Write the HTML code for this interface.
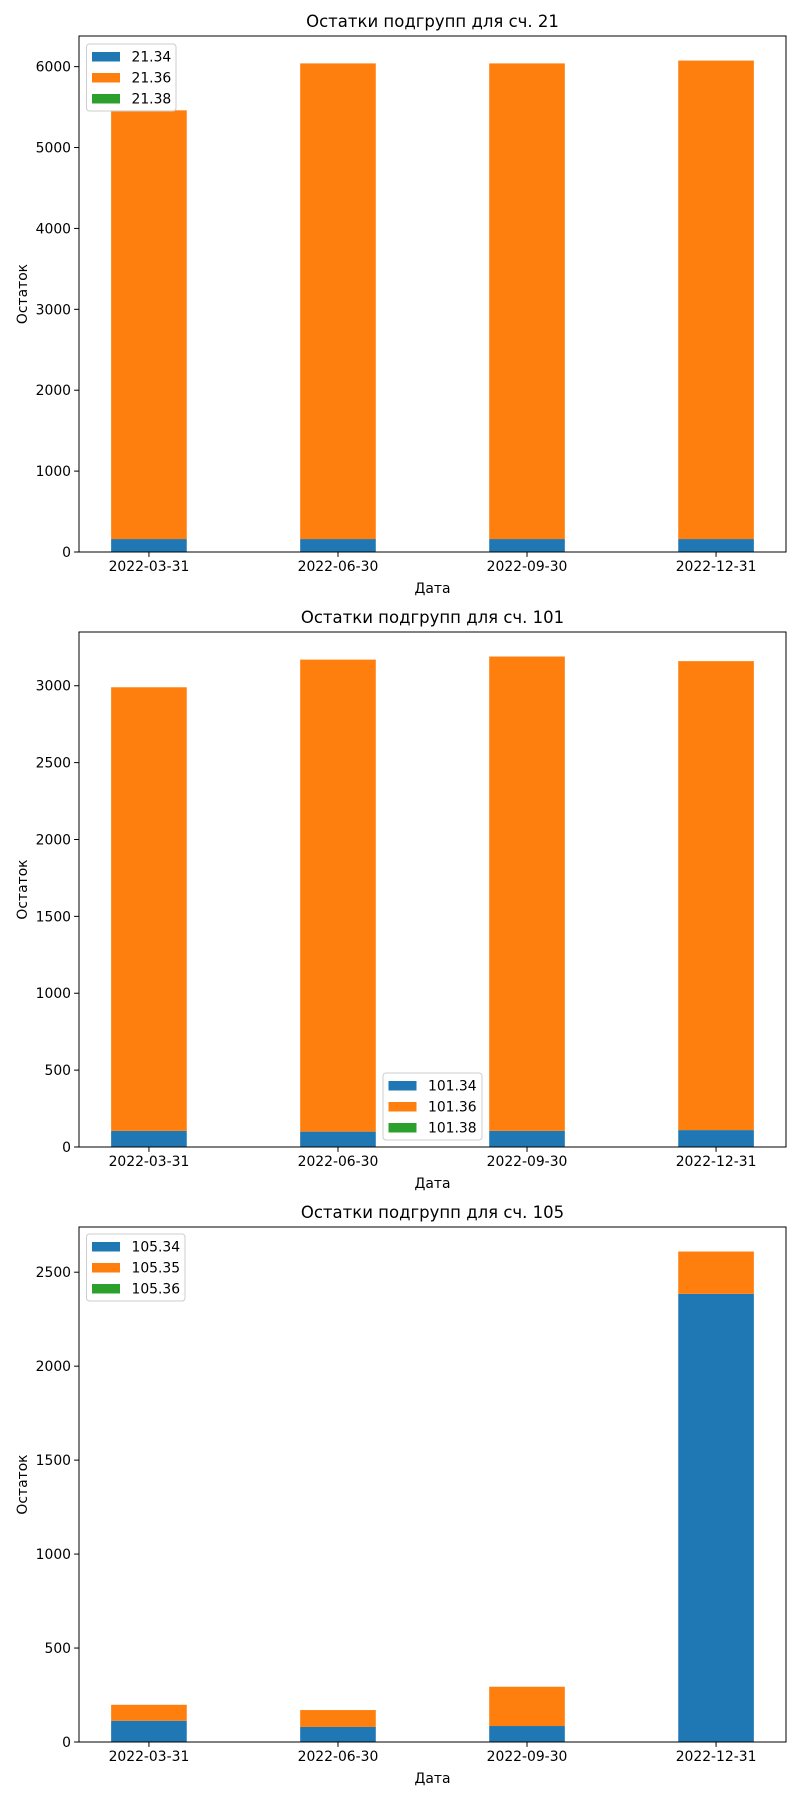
<!DOCTYPE html>
<html><head><meta charset="utf-8"><style>
body{margin:0;background:#fff}
svg{display:block;font-family:"DejaVu Sans","Liberation Sans",sans-serif}
</style></head><body>
<svg id="fig" width="800" height="1800" viewBox="0 0 800 1800" xmlns="http://www.w3.org/2000/svg"></svg>
<script>
const categories = ["2022-03-31","2022-06-30","2022-09-30","2022-12-31"];
const c1Names = ["21.34","21.36","21.38"];
const c1A = [160,160,160,160];
const c1B = [5300,5880,5880,5915];
const c1C = [0,0,0,0];
const c1Ticks = [0,1000,2000,3000,4000,5000,6000];
const c2Names = ["101.34","101.36","101.38"];
const c2A = [105,100,105,110];
const c2B = [2885,3070,3085,3050];
const c2C = [0,0,0,0];
const c2Ticks = [0,500,1000,1500,2000,2500,3000];
const c3Names = ["105.34","105.35","105.36"];
const c3A = [113,80,85,2385];
const c3B = [85,90,209,225];
const c3C = [0,0,0,0];
const c3Ticks = [0,500,1000,1500,2000,2500];

const NS="http://www.w3.org/2000/svg";
const svg=document.getElementById('fig');
const colors=["#1f77b4","#ff7f0e","#2ca02c"];
function el(t,a,p){const e=document.createElementNS(NS,t);for(const k in a)e.setAttribute(k,a[k]);(p||svg).appendChild(e);return e;}

function chart(idx,top,bottom,title,names,series,ticks,legend){
  const g=el('g',{});
  
  
  const L=79,R=786;
  const totals=categories.map((c,i)=>series.reduce((s,a)=>s+a[i],0));
  const ymax=Math.max(...totals)*1.05;
  const y=v=>bottom-(v/ymax)*(bottom-top);
  const x=v=>L+(v+0.37)/3.74*(R-L);
  const t=el('text',{x:(L+R)/2,y:top-9,'text-anchor':'middle','font-size':16.5,fill:'#000'},g);
  t.textContent=title;
  
  
  categories.forEach((c,i)=>{
    let base=0;
    series.forEach((s,k)=>{
      if(s[i]>0){
        const r=el('rect',{x:x(i-0.2),y:y(base+s[i]),width:x(i+0.2)-x(i-0.2),height:y(base)-y(base+s[i]),fill:colors[k]},g);
        
        
      }
      base+=s[i];
    });
    el('line',{x1:x(i),x2:x(i),y1:bottom,y2:bottom+4.9,stroke:'#000','stroke-width':1},g);
    const tl=el('text',{x:x(i),y:bottom+19,'text-anchor':'middle','font-size':13.9},g);
    tl.textContent=c;
    
    
  });
  ticks.forEach(v=>{
    el('line',{x1:L-4.9,x2:L,y1:y(v),y2:y(v),stroke:'#000','stroke-width':1},g);
    const tl=el('text',{x:L-8,y:y(v)+5,'text-anchor':'end','font-size':13.9},g);
    tl.textContent=v;
    
    
  });
  const ax=el('rect',{x:L,y:top,width:R-L,height:bottom-top,fill:'none',stroke:'#000','stroke-width':1},g);
  
  
  const xl=el('text',{x:(L+R)/2,y:bottom+41,'text-anchor':'middle','font-size':13.9},g);
  xl.textContent='Дата';
  
  
  const yc=(top+bottom)/2;
  const yl=el('text',{x:27,y:yc,'text-anchor':'middle','font-size':13.9,transform:`rotate(-90 27 ${yc})`},g);
  yl.textContent='Остаток';
  
  
  const lg=el('g',{},g);
  
  
  el('rect',{x:legend[0],y:legend[1],width:legend[2],height:67,rx:3,fill:'#fff','fill-opacity':0.8,stroke:'#ccc'},lg);
  names.forEach((n,k)=>{
    const e=el('g',{},lg);
    
    
    el('rect',{x:legend[0]+5.5,y:legend[1]+8+k*21,width:28,height:9.5,fill:colors[k]},e);
    const tx=el('text',{x:legend[0]+45,y:legend[1]+17.5+k*21,'font-size':13.9},e);
    tx.textContent=n;
  });
}
chart(1,36,552,'Остатки подгрупп для сч. 21',c1Names,[c1A,c1B,c1C],c1Ticks,[86.5,44,89.5]);
chart(2,632,1147,'Остатки подгрупп для сч. 101',c2Names,[c2A,c2B,c2C],c2Ticks,[383,1073,99]);
chart(3,1227,1742,'Остатки подгрупп для сч. 105',c3Names,[c3A,c3B,c3C],c3Ticks,[86.5,1234,98.5]);
</script>
</body></html>
